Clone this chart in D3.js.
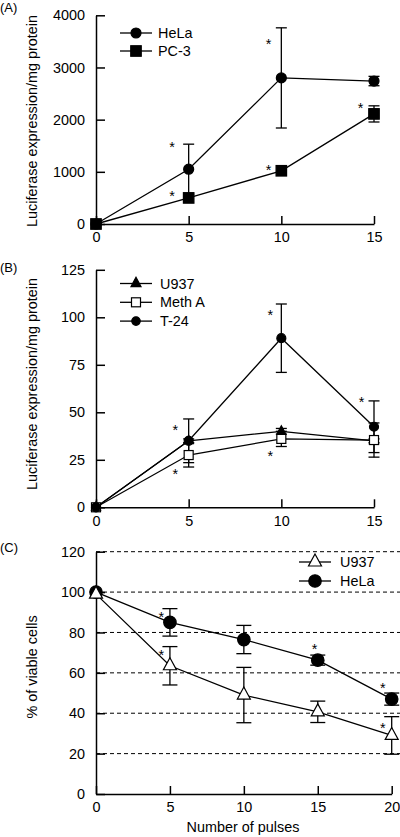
<!DOCTYPE html>
<html>
<head>
<meta charset="utf-8">
<script src="https://cdn.jsdelivr.net/npm/d3@7"></script>
<style>
  html, body { margin: 0; padding: 0; background: #fff; }
  svg { display: block; }
  text { font-family: "Liberation Sans", Arial, Helvetica, sans-serif; fill: #000; }
</style>
</head>
<body>
<svg id="chart" width="400" height="837"></svg>
<script>
// ---------- Panel A ----------
const pulsesAB = [0, 5, 10, 15];
const yTicksA = [0, 1000, 2000, 3000, 4000];
const helaA = [0, 1050, 2800, 2740];
const helaAErr = [0, 480, 960, 90];
const pc3A = [0, 500, 1020, 2110];
const pc3AErr = [0, 0, 0, 155];
const starsA = [[4.1, 1533], [9.31, 3507], [4.1, 594], [9.31, 1092], [14.28, 2280]];

// ---------- Panel B ----------
const yTicksB = [0, 25, 50, 75, 100, 125];
const u937B = [0, 35, 40, 35];
const u937BErr = [0, 1, 1.5, 1];
const methB = [0, 27.5, 36, 35.4];
const methBErr = [0, 6.3, 4, 9];
const t24B = [0, 35, 89, 42.4];
const t24BErr = [0, 11.5, 18, 13.6];
const starsB = [[4.28, 42.4], [4.28, 19.1], [9.4, 102.6], [9.4, 28.7], [14.33, 56.8]];

// ---------- Panel C ----------
const pulsesC = [0, 5, 10, 15, 20];
const yTicksC = [0, 20, 40, 60, 80, 100, 120];
const gridC = [20, 40, 60, 80, 100, 120];
const u937C = [99, 63.5, 49, 40.7, 29];
const u937CErr = [0, 9.5, 13.7, 5.3, 9.3];
const helaC = [100, 85, 76.5, 66.3, 47];
const helaCErr = [0, 6.8, 7, 2.5, 3];
const starsC = [[4.41, 89.1], [4.41, 70.4], [14.78, 73.3], [19.39, 54], [19.39, 34.2]];

const svg = d3.select("#chart");
const FS = 14.4;

function drawMarker(g, shape, fill, size, cx, cy) {
  if (shape === "circle") {
    g.append("circle").attr("cx", cx).attr("cy", cy).attr("r", size / 2)
      .attr("fill", fill).attr("stroke", "#000").attr("stroke-width", 1.2);
  } else if (shape === "square") {
    g.append("rect").attr("x", cx - size / 2).attr("y", cy - size / 2)
      .attr("width", size).attr("height", size)
      .attr("fill", fill).attr("stroke", "#000").attr("stroke-width", 1.2);
  } else {
    const w = size, h = size * 0.92;
    g.append("path")
      .attr("d", `M${cx},${cy - 2 * h / 3} L${cx + w / 2},${cy + h / 3} L${cx - w / 2},${cy + h / 3} Z`)
      .attr("fill", fill).attr("stroke", "#000").attr("stroke-width", 1.2)
      .attr("stroke-linejoin", "miter");
  }
}

function drawPanel(cfg) {
  const g = svg.append("g");
  const x = cfg.x, y = cfg.y;

  // grid
  if (cfg.grid) {
    g.selectAll(".grid").data(cfg.grid).enter().append("line")
      .attr("x1", x.range()[0]).attr("x2", cfg.gridEnd)
      .attr("y1", d => y(d)).attr("y2", d => y(d))
      .attr("stroke", "#000").attr("stroke-width", 1)
      .attr("stroke-dasharray", "4,3");
  }

  // axes
  const yAxis = d3.axisLeft(y).tickValues(cfg.yTicks).tickSizeInner(-9).tickSizeOuter(0)
    .tickPadding(11).tickFormat(d3.format("d"));
  const ya = g.append("g").attr("transform", `translate(${x.range()[0]},0)`).call(yAxis);
  const xAxis = d3.axisBottom(x).tickValues(cfg.xTicks).tickSizeInner(-8).tickSizeOuter(0)
    .tickPadding(8).tickFormat(d3.format("d"));
  const xa = g.append("g").attr("transform", `translate(0,${y.range()[0]})`).call(xAxis);
  [ya, xa].forEach(a => {
    a.selectAll("path,line").attr("stroke", "#000").attr("stroke-width", 1.5);
    a.selectAll("text").attr("font-size", FS).attr("font-family", null);
  });

  // error bars
  cfg.series.forEach(s => {
    s.values.forEach((v, i) => {
      const e = s.err[i];
      if (!e) return;
      const cx = x(cfg.xs[i]);
      g.append("line").attr("x1", cx).attr("x2", cx).attr("y1", y(v - e)).attr("y2", y(v + e))
        .attr("stroke", "#000").attr("stroke-width", 1.3);
      [v - e, v + e].forEach(t => {
        g.append("line").attr("x1", cx - cfg.cap / 2).attr("x2", cx + cfg.cap / 2)
          .attr("y1", y(t)).attr("y2", y(t)).attr("stroke", "#000").attr("stroke-width", 1.3);
      });
    });
  });

  // lines
  const line = d3.line().x((d, i) => x(cfg.xs[i])).y(d => y(d));
  cfg.series.forEach(s => {
    g.append("path").datum(s.values).attr("d", line)
      .attr("fill", "none").attr("stroke", "#000").attr("stroke-width", 1.3);
  });

  // markers
  cfg.drawOrder.forEach(k => {
    const s = cfg.series[k];
    s.values.forEach((v, i) => drawMarker(g, s.shape, s.fill, s.size, x(cfg.xs[i]), y(v)));
  });

  // stars
  g.selectAll(".star").data(cfg.stars).enter().append("text")
    .attr("x", d => x(d[0])).attr("y", d => y(d[1]) + 8)
    .attr("text-anchor", "middle").attr("font-size", FS).text("*");

  // legend
  cfg.series.forEach((s, i) => {
    const ly = cfg.legend.y0 + i * cfg.legend.dy;
    g.append("line").attr("x1", cfg.legend.x0).attr("x2", cfg.legend.x0 + 32)
      .attr("y1", ly).attr("y2", ly).attr("stroke", "#000").attr("stroke-width", 1.3);
    drawMarker(g, s.shape, s.fill, s.lsize || s.size, cfg.legend.x0 + 16, ly);
    g.append("text").attr("x", cfg.legend.x0 + cfg.legend.tx).attr("y", ly)
      .attr("dy", "0.36em").attr("font-size", FS).text(s.name);
  });

  // y label
  g.append("text").attr("transform", `translate(${cfg.ylabX},${cfg.ylabY}) rotate(-90)`)
    .attr("text-anchor", "middle").attr("dy", "0.36em").attr("font-size", FS).text(cfg.ylabel);

  // panel label
  g.append("text").attr("x", 0).attr("y", cfg.panelY).attr("dy", "0.36em")
    .attr("font-size", 13).text(cfg.panel);
}

// Panel A
drawPanel({
  panel: "(A)", panelY: 7,
  x: d3.scaleLinear().domain([0, 15]).range([96, 374]),
  y: d3.scaleLinear().domain([0, 4000]).range([224, 15.3]),
  xs: pulsesAB, xTicks: pulsesAB, yTicks: yTicksA, cap: 11,
  series: [
    { name: "HeLa", values: helaA, err: helaAErr, shape: "circle", fill: "#000", size: 10 },
    { name: "PC-3", values: pc3A, err: pc3AErr, shape: "square", fill: "#000", size: 10.5 }
  ],
  drawOrder: [0, 1],
  stars: starsA,
  legend: { x0: 120, y0: 33, dy: 18, tx: 38 },
  ylabel: "Luciferase expression/mg protein", ylabX: 32, ylabY: 121
});

// Panel B
drawPanel({
  panel: "(B)", panelY: 267,
  x: d3.scaleLinear().domain([0, 15]).range([96, 374]),
  y: d3.scaleLinear().domain([0, 125]).range([507.3, 269.8]),
  xs: pulsesAB, xTicks: pulsesAB, yTicks: yTicksB, cap: 11,
  series: [
    { name: "U937", values: u937B, err: u937BErr, shape: "triangle", fill: "#000", size: 9, lsize: 10 },
    { name: "Meth A", values: methB, err: methBErr, shape: "square", fill: "#fff", size: 9, lsize: 9 },
    { name: "T-24", values: t24B, err: t24BErr, shape: "circle", fill: "#000", size: 9, lsize: 8.5 }
  ],
  drawOrder: [0, 1, 2],
  stars: starsB,
  legend: { x0: 120, y0: 283.5, dy: 18.8, tx: 40 },
  ylabel: "Luciferase expression/mg protein", ylabX: 32, ylabY: 384
});

// Panel C
drawPanel({
  panel: "(C)", panelY: 547,
  x: d3.scaleLinear().domain([0, 20]).range([96, 391.7]),
  y: d3.scaleLinear().domain([0, 120]).range([794, 551.7]),
  xs: pulsesC, xTicks: pulsesC, yTicks: yTicksC, cap: 15,
  grid: gridC, gridEnd: 400,
  series: [
    { name: "U937", values: u937C, err: u937CErr, shape: "triangle", fill: "#fff", size: 13 },
    { name: "HeLa", values: helaC, err: helaCErr, shape: "circle", fill: "#000", size: 12.5 }
  ],
  drawOrder: [1, 0],
  stars: starsC,
  legend: { x0: 299, y0: 562, dy: 19, tx: 41 },
  ylabel: "% of viable cells", ylabX: 32, ylabY: 667
});

svg.append("text").attr("x", 243).attr("y", 827).attr("dy", "0.36em")
  .attr("text-anchor", "middle").attr("font-size", FS).text("Number of pulses");
</script>
</body>
</html>
